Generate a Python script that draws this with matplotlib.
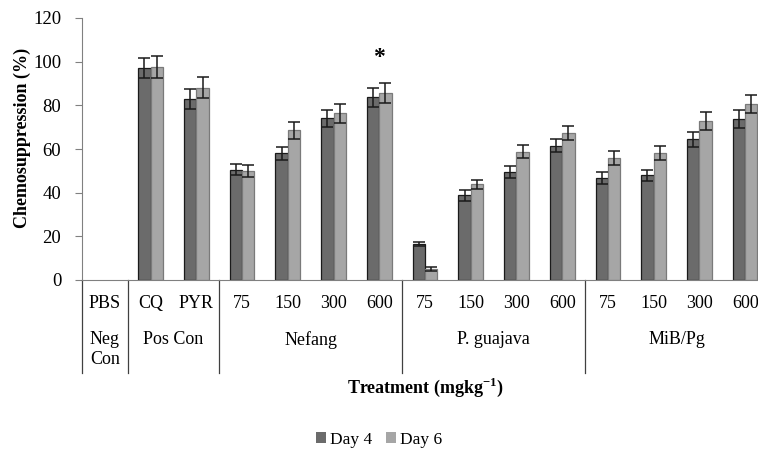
#!/usr/bin/env python3
# -*- coding: utf-8 -*-
"""Chemosuppression bar chart (Day 4 / Day 6) with grouped table-like x labels."""

import numpy as np
import matplotlib
matplotlib.use("Agg")
import matplotlib.pyplot as plt

# —— data —— #
doses = ["PBS", "CQ", "PYR", "75", "150", "300", "600",
         "75", "150", "300", "600", "75", "150", "300", "600"]
groups = ["Neg\nCon", "Pos Con", "Nefang", "P. guajava", "MiB/Pg"]
group_sizes = [1, 2, 4, 4, 4]

day4 = [0, 97, 83, 50.6, 58.1, 74.0, 83.7, 16.5, 38.8, 49.6, 61.5, 46.6, 48.0, 64.4, 73.7]
day6 = [0, 97.5, 88.1, 50.1, 68.5, 76.3, 85.8, 4.9, 43.8, 58.8, 67.2, 55.7, 58.0, 72.8, 80.6]
err4 = [0, 4.6, 4.6, 2.5, 3.0, 3.7, 4.3, 1.0, 2.4, 2.8, 3.0, 2.7, 2.5, 3.5, 4.0]
err6 = [0, 5.0, 4.8, 2.8, 4.0, 4.3, 4.6, 0.9, 2.0, 3.0, 3.3, 3.2, 3.2, 4.0, 4.3]

plt.rcParams["font.family"] = ["Liberation Serif", "DejaVu Serif"]
plt.rcParams["mathtext.fontset"] = "custom"
plt.rcParams["mathtext.rm"] = "Liberation Serif"
plt.rcParams["mathtext.bf"] = "Liberation Serif:bold"

W, H = 758, 450
fig = plt.figure(figsize=(W / 100, H / 100), dpi=100)
# plot area runs past the right edge, as in the cropped original
x0, x1, ytop, ybot = 82, 768, 18, 280
ax = fig.add_axes([x0 / W, 1 - ybot / H, (x1 - x0) / W, (ybot - ytop) / H])

x = np.arange(len(doses))
bw = 0.27
ekw = dict(fmt="none", ecolor="#1a1a1a", elinewidth=1.1, capsize=4, capthick=1.1)
for vals, errs, off, fc, ec, lab in [(day4, err4, -bw / 2, "#6b6b6b", "#1a1a1a", "Day 4"),
                                     (day6, err6, bw / 2, "#a6a6a6", "#7a7a7a", "Day 6")]:
    v = np.array(vals, float)
    e = np.array(errs, float)
    lw = np.where(v > 0, 0.9, 0.0)
    ax.bar(x + off, v, bw, color=fc, edgecolor=ec, linewidth=lw, label=lab)
    m = v > 0
    ax.errorbar(x[m] + off, v[m], yerr=e[m], **ekw)

ax.set_xlim(-0.5, len(doses) - 0.5)
ax.set_ylim(0, 120)
ax.set_yticks(range(0, 121, 20))
ax.tick_params(axis="y", labelsize=13.5, length=5, color="#808080", pad=10)
ax.set_xticks([])
for s in ["top", "right"]:
    ax.spines[s].set_visible(False)
ax.spines["left"].set_color("#808080")
ax.spines["bottom"].set_color("#808080")

# significance mark
ax.text(6, 97, "*", ha="center", va="bottom", fontsize=17, fontweight="bold")

# table-like category labels
tr = ax.get_xaxis_transform()
for i, d in enumerate(doses):
    ax.text(i, -0.088, d, transform=tr, ha="center", va="center", fontsize=13)
edges = np.concatenate([[0], np.cumsum(group_sizes)]) - 0.5
for e in edges[:-1]:
    ax.plot([e, e], [0, -0.355], transform=tr, color="#404040", lw=0.9, clip_on=False)
for g, a, b in zip(groups, edges[:-1], edges[1:]):
    ax.text((a + b) / 2, -0.195, g, transform=tr, ha="center", va="top", fontsize=13,
            linespacing=1.25)

fig.text(425 / W, 1 - 387 / H, r"Treatment (mgkg$^{\mathbf{-1}}$)", ha="center", va="center",
         fontsize=13, fontweight="bold")
fig.text(22 / W, 1 - 138 / H, "Chemosuppression (%)", ha="center", va="center",
         rotation=90, fontsize=13, fontweight="bold")

fig.legend(loc="center", bbox_to_anchor=(379 / W, 1 - 440 / H), ncol=2, frameon=False,
           fontsize=12.5, handlelength=0.6, handleheight=0.6, handletextpad=0.2,
           columnspacing=0.8)

fig.savefig("out.png", dpi=100)
